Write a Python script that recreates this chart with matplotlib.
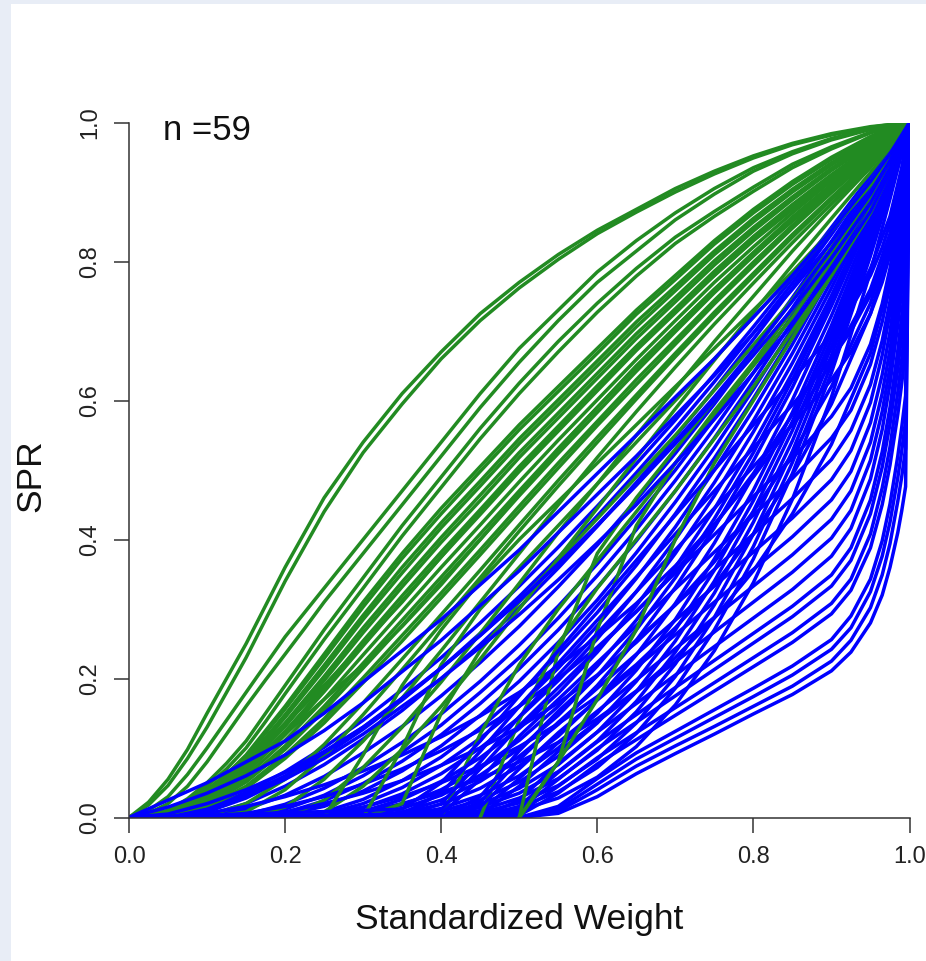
import matplotlib
matplotlib.use("Agg")
import matplotlib.pyplot as plt
from matplotlib.patches import Rectangle

plt.rcParams["font.family"] = ["Liberation Sans", "DejaVu Sans"]

# standardized weight positions at which the SPR of the curves was read
weight = [0.00, 0.05, 0.10, 0.15, 0.20, 0.25, 0.30, 0.35, 0.40, 0.45, 0.50,
          0.55, 0.60, 0.65, 0.70, 0.75, 0.80, 0.85, 0.90, 0.95, 0.975, 0.99, 1.00]
# finer reading near the origin for the outer green S curves
weight_outer = [0.0, 0.025, 0.05, 0.075, 0.10, 0.125, 0.15, 0.175, 0.20, 0.225, 0.25,
                0.30, 0.35, 0.40, 0.45, 0.50, 0.55, 0.60, 0.65, 0.70, 0.75, 0.80,
                0.85, 0.90, 0.95, 0.975, 0.99, 1.0]
# finer reading near weight 1 for the late blue curves
weight_tail = [0.0, 0.35, 0.40, 0.45, 0.50, 0.55, 0.60, 0.65, 0.70, 0.75, 0.80, 0.85,
               0.90, 0.925, 0.95, 0.965, 0.975, 0.985, 0.99, 0.995, 1.0]

# green curves: isolated outer S curves (on weight_outer)
green_outer = [
    [0, .022, .055, .098, .15, .2, .25, .305, .36, .41, .46, .54, .61, .67, .725, .77, .81, .845, .875, .905, .93, .952, .97, .984, .994, .997, .999, 1],
    [0, .018, .046, .085, .13, .18, .23, .285, .34, .39, .44, .525, .595, .66, .715, .762, .803, .84, .871, .90, .926, .949, .968, .982, .993, .997, .999, 1],
    [0, .01, .03, .062, .10, .14, .18, .22, .26, .295, .33, .40, .47, .54, .61, .675, .73, .785, .83, .87, .905, .935, .958, .977, .991, .996, .999, 1],
    [0, .006, .02, .045, .08, .12, .16, .198, .235, .272, .31, .38, .45, .52, .59, .655, .715, .77, .815, .86, .897, .93, .955, .975, .99, .996, .999, 1],
    [0, .003, .01, .027, .05, .078, .11, .15, .19, .23, .27, .345, .42, .49, .56, .625, .685, .74, .79, .835, .872, .907, .94, .965, .986, .994, .998, 1],
    [0, .002, .008, .022, .045, .07, .10, .138, .178, .217, .256, .33, .405, .475, .545, .61, .67, .727, .779, .826, .865, .901, .935, .962, .985, .994, .998, 1],
]

# green curves: the bundle above the diagonal (on weight)
green_bundle = [
    [0, .005, .035, .09, .16, .235, .31, .38, .445, .505, .565, .62, .675, .73, .78, .83, .875, .915, .95, .98, .992, .998, 1],
    [0, .005, .034, .087, .156, .229, .303, .373, .437, .498, .558, .613, .668, .724, .774, .825, .870, .911, .947, .978, .991, .998, 1],
    [0, .004, .032, .082, .148, .219, .291, .360, .424, .484, .545, .601, .657, .713, .764, .815, .862, .904, .942, .975, .989, .997, 1],
    [0, .004, .031, .080, .144, .213, .285, .352, .417, .477, .538, .594, .650, .706, .758, .810, .857, .900, .939, .973, .988, .997, 1],
    [0, .004, .028, .075, .136, .203, .273, .339, .403, .464, .525, .582, .639, .696, .748, .801, .849, .893, .934, .970, .987, .996, 1],
    [0, .004, .027, .072, .131, .197, .266, .332, .396, .456, .518, .575, .632, .689, .742, .795, .844, .889, .931, .968, .986, .995, 1],
    [0, .003, .025, .067, .124, .187, .254, .319, .382, .443, .505, .563, .621, .678, .732, .786, .836, .882, .925, .965, .984, .995, 1],
    [0, .003, .024, .064, .119, .181, .247, .312, .375, .436, .498, .556, .614, .672, .726, .780, .831, .878, .922, .963, .983, .994, 1],
    [0, .003, .022, .059, .111, .170, .234, .297, .360, .421, .483, .543, .601, .659, .715, .770, .821, .870, .916, .959, .981, .994, 1],
    [0, .002, .019, .054, .103, .160, .222, .284, .346, .408, .470, .531, .590, .648, .705, .760, .813, .864, .911, .956, .979, .993, 1],
    [0, .002, .018, .051, .098, .154, .215, .276, .339, .400, .463, .524, .583, .642, .699, .755, .808, .860, .908, .954, .978, .992, 1],
    [0, .002, .016, .045, .090, .142, .201, .262, .323, .385, .448, .510, .570, .630, .687, .744, .799, .852, .902, .950, .976, .992, 1],
    [0, .002, .015, .042, .085, .136, .194, .254, .316, .378, .441, .503, .564, .623, .681, .739, .794, .848, .899, .948, .975, .991, 1],
    [0, 0, .002, .02, .055, .105, .165, .228, .292, .356, .421, .485, .547, .608, .668, .727, .783, .839, .892, .944, .973, .990, 1],
    [0, 0, 0, .008, .04, .088, .148, .213, .279, .345, .412, .477, .54, .602, .663, .722, .779, .835, .889, .942, .972, .990, 1],
    [0, 0, 0, 0, .015, .055, .11, .172, .24, .31, .38, .45, .518, .584, .648, .71, .769, .827, .883, .938, .970, .989, 1],
    [0, 0, 0, 0, 0, .025, .072, .13, .195, .265, .337, .41, .48, .55, .617, .685, .75, .815, .876, .935, .969, .989, 1],
    [0, 0, 0, 0, 0, .008, .045, .098, .16, .228, .30, .373, .445, .517, .588, .658, .727, .795, .862, .928, .964, .987, 1],
    [0, 0, .03, .07, .12, .17, .22, .275, .335, .40, .465, .53, .59, .65, .705, .76, .81, .858, .903, .948, .972, .989, 1],
    [0, .01, .04, .085, .135, .19, .25, .31, .375, .44, .50, .56, .62, .675, .73, .78, .83, .875, .918, .96, .98, .993, 1],
]

# green curves: late starters rising steeply through the blue region (on weight)
green_steep = [
    [0, 0, 0, 0, 0, 0, .09, .19, .27, .34, .40, .455, .51, .565, .62, .675, .73, .785, .845, .91, .952, .981, 1],
    [0, 0, 0, 0, 0, 0, 0, .10, .22, .30, .36, .42, .48, .54, .60, .66, .72, .78, .845, .915, .955, .982, 1],
    [0, 0, 0, 0, 0, 0, 0, .02, .15, .24, .31, .37, .43, .49, .55, .615, .68, .745, .815, .895, .945, .978, 1],
    [0, 0, 0, 0, 0, 0, 0, 0, 0, .12, .22, .30, .37, .44, .51, .58, .65, .72, .80, .885, .94, .977, 1],
    [0, 0, 0, 0, 0, 0, 0, 0, 0, 0, .14, .25, .33, .40, .47, .545, .62, .70, .78, .87, .93, .975, 1],
    [0, 0, 0, 0, 0, 0, 0, 0, 0, 0, 0, .24, .38, .46, .53, .60, .67, .745, .82, .90, .95, .98, 1],
    [0, 0, 0, 0, 0, 0, 0, 0, 0, 0, 0, .08, .27, .42, .51, .585, .655, .73, .81, .895, .945, .978, 1],
    [0, 0, 0, 0, 0, 0, 0, 0, 0, 0, 0, .08, .17, .27, .40, .51, .60, .69, .78, .875, .935, .975, 1],
]

# blue curves: convex curves of the middle band (on weight)
blue_mid = [
    [0, 0, .013, .036, .066, .101, .14, .184, .23, .28, .333, .389, .448, .509, .572, .638, .706, .776, .849, .923, .962, .985, 1],
    [0, 0, .008, .028, .056, .089, .127, .169, .215, .265, .318, .374, .434, .496, .56, .627, .697, .769, .844, .921, .961, .984, 1],
    [0, 0, .003, .02, .045, .076, .113, .154, .2, .249, .302, .359, .419, .482, .548, .616, .688, .762, .839, .918, .959, .983, 1],
    [0, 0, .002, .012, .032, .059, .093, .131, .175, .223, .275, .332, .392, .457, .524, .595, .67, .748, .829, .913, .956, .982, 1],
    [0, 0, 0, .004, .019, .042, .072, .108, .149, .196, .248, .304, .365, .431, .5, .574, .652, .733, .819, .907, .953, .981, 1],
    [0, 0, 0, .002, .012, .032, .06, .094, .133, .18, .23, .287, .348, .414, .485, .56, .64, .723, .812, .903, .951, .98, 1],
    [0, 0, 0, 0, .007, .024, .049, .081, .119, .164, .214, .27, .331, .398, .47, .546, .628, .714, .805, .9, .949, .98, 1],
    [0, 0, 0, 0, .004, .016, .038, .067, .103, .147, .196, .252, .313, .381, .454, .532, .616, .704, .798, .897, .948, .979, 1],
    [0, 0, 0, 0, 0, .008, .026, .053, .087, .129, .178, .234, .295, .363, .437, .517, .603, .694, .791, .893, .946, .978, 1],
    [0, 0, 0, 0, 0, .005, .02, .043, .075, .114, .16, .215, .276, .344, .418, .5, .587, .681, .782, .888, .943, .977, 1],
    [0, 0, 0, 0, 0, .002, .014, .034, .063, .1, .144, .197, .257, .325, .4, .482, .571, .668, .772, .882, .94, .976, 1],
    [0, 0, 0, 0, 0, .001, .009, .026, .052, .086, .128, .179, .238, .305, .38, .463, .555, .654, .762, .877, .937, .975, 1],
    [0, 0, 0, 0, 0, 0, .004, .018, .04, .071, .111, .16, .218, .284, .36, .444, .538, .64, .751, .871, .934, .974, 1],
    [0, 0, 0, 0, 0, 0, .002, .013, .032, .061, .099, .147, .204, .27, .345, .43, .525, .63, .744, .867, .932, .973, 1],
    [0, 0, 0, 0, 0, 0, .001, .008, .025, .052, .088, .134, .19, .255, .331, .417, .513, .619, .736, .863, .93, .972, 1],
    [0, 0, 0, 0, 0, 0, 0, .006, .019, .042, .074, .117, .17, .234, .308, .395, .492, .601, .722, .855, .926, .97, 1],
    [0, 0, 0, 0, 0, 0, 0, .003, .013, .032, .06, .1, .15, .212, .285, .372, .471, .583, .708, .847, .922, .968, 1],
    [0, 0, 0, 0, 0, 0, 0, .001, .009, .025, .051, .088, .136, .196, .27, .356, .456, .57, .698, .842, .919, .967, 1],
    [0, 0, 0, 0, 0, 0, 0, 0, .005, .019, .042, .076, .123, .181, .254, .34, .441, .557, .688, .836, .916, .966, 1],
    [0, 0, 0, 0, 0, 0, 0, 0, .004, .015, .035, .066, .11, .167, .238, .323, .425, .542, .677, .83, .913, .965, 1],
    [0, 0, 0, 0, 0, 0, 0, 0, .002, .01, .028, .056, .097, .152, .221, .306, .408, .527, .665, .823, .909, .963, 1],
    [0, 0, 0, 0, 0, 0, 0, 0, .001, .007, .021, .046, .084, .136, .203, .288, .39, .511, .652, .816, .905, .962, 1],
    [0, 0, 0, 0, 0, 0, 0, 0, 0, .004, .015, .037, .072, .121, .186, .27, .372, .495, .64, .808, .901, .96, 1],
    [0, 0, 0, 0, 0, 0, 0, 0, 0, .002, .01, .028, .058, .102, .162, .24, .338, .458, .605, .785, .89, .955, 1],
]

# blue curves: shallow early starters low in the band (on weight)
blue_shallow = [
    [0, 0, .006, .016, .03, .047, .067, .09, .116, .146, .18, .218, .26, .308, .362, .422, .49, .567, .655, .76, .84, .92, 1],
    [0, 0, 0, .006, .016, .03, .048, .07, .096, .126, .16, .2, .245, .296, .354, .42, .495, .58, .677, .79, .865, .935, 1],
    [0, 0, 0, 0, .008, .02, .035, .053, .075, .1, .13, .165, .205, .252, .306, .368, .44, .523, .62, .74, .83, .915, 1],
    [0, 0, 0, 0, 0, .005, .015, .03, .05, .074, .102, .135, .174, .22, .273, .335, .408, .493, .595, .725, .82, .91, 1],
    [0, 0, 0, 0, 0, 0, .008, .02, .036, .056, .08, .108, .142, .182, .23, .287, .355, .437, .537, .668, .775, .885, 1],
]

# blue curves: late starters that turn up sharply near weight 1 (on weight_tail)
blue_low = [
    [0, 0, 0, 0, 0, .006, .03, .063, .092, .12, .149, .177, .211, .238, .28, .32, .36, .41, .441, .476, 1],
    [0, 0, 0, 0, 0, .009, .04, .074, .103, .131, .16, .189, .225, .255, .302, .349, .394, .455, .49, .531, 1],
    [0, 0, 0, 0, 0, .012, .048, .084, .114, .144, .174, .205, .242, .273, .325, .376, .425, .489, .527, .571, 1],
    [0, 0, 0, 0, 0, .016, .056, .093, .124, .155, .186, .218, .256, .29, .343, .398, .451, .52, .561, .607, 1],
    [0, 0, 0, 0, .003, .035, .077, .112, .147, .182, .217, .252, .293, .327, .388, .45, .507, .58, .624, .674, 1],
    [0, 0, 0, 0, .007, .045, .086, .122, .158, .194, .23, .266, .308, .343, .408, .474, .533, .612, .658, .711, 1],
    [0, 0, 0, 0, .012, .055, .099, .137, .175, .213, .251, .289, .333, .37, .437, .504, .566, .646, .694, .749, 1],
    [0, 0, 0, 0, .016, .065, .109, .148, .187, .226, .265, .304, .349, .388, .457, .526, .59, .672, .721, .777, 1],
    [0, 0, 0, 0, .025, .078, .123, .164, .205, .246, .287, .328, .376, .416, .487, .558, .624, .709, .759, .817, 1],
    [0, 0, 0, .004, .045, .095, .138, .181, .224, .267, .31, .353, .402, .442, .514, .584, .648, .731, .781, .837, 1],
    [0, 0, 0, .009, .056, .108, .153, .198, .243, .288, .333, .378, .429, .47, .54, .61, .673, .755, .803, .859, 1],
    [0, 0, 0, .015, .07, .122, .169, .216, .263, .31, .357, .404, .457, .498, .568, .637, .699, .779, .827, .881, 1],
    [0, 0, 0, .022, .083, .137, .186, .235, .284, .333, .382, .431, .486, .528, .597, .665, .726, .805, .85, .903, 1],
    [0, 0, 0, .03, .096, .153, .204, .255, .306, .357, .408, .459, .515, .557, .623, .686, .743, .816, .859, .907, 1],
    [0, 0, .005, .055, .117, .17, .223, .276, .329, .382, .435, .488, .546, .586, .652, .713, .766, .835, .875, .921, 1],
    [0, 0, .011, .07, .132, .187, .242, .297, .352, .407, .462, .517, .577, .618, .681, .739, .79, .856, .893, .937, 1],
    [0, 0, .02, .08, .145, .205, .265, .325, .385, .445, .505, .565, .63, .67, .725, .77, .81, .865, .90, .94, 1],
    [0, .005, .035, .095, .16, .222, .284, .346, .408, .47, .532, .594, .66, .70, .752, .795, .833, .882, .912, .948, 1],
    [0, .012, .05, .11, .175, .24, .305, .37, .435, .50, .565, .63, .695, .733, .78, .82, .855, .898, .924, .955, 1],
]

# blue curves: upper edge of the blue family along the diagonal (on weight)
blue_edge = [
    [0, .025, .05, .08, .11, .15, .195, .24, .285, .335, .385, .44, .495, .55, .605, .66, .72, .78, .845, .915, .955, .982, 1],
    [0, .015, .035, .06, .09, .125, .165, .21, .255, .305, .355, .41, .465, .52, .578, .636, .697, .76, .828, .90, .945, .978, 1],
    [0, .005, .02, .04, .065, .095, .13, .17, .215, .262, .312, .365, .42, .478, .538, .60, .665, .732, .805, .884, .935, .973, 1],
    [0, 0, .01, .03, .055, .085, .12, .16, .20, .245, .292, .342, .395, .45, .51, .573, .64, .71, .787, .872, .928, .97, 1],
    [0, 0, .012, .033, .06, .093, .13, .172, .215, .262, .312, .365, .421, .479, .541, .605, .673, .743, .818, .897, .945, .978, 1],
]

n_subjects = 59
ticks = [0.0, 0.2, 0.4, 0.6, 0.8, 1.0]
tick_labels = ["0.0", "0.2", "0.4", "0.6", "0.8", "1.0"]

GREEN = "#228B22"
BLUE = "#0000FF"
LW = 2.5

fig = plt.figure(figsize=(9.26, 9.61), dpi=100)
fig.patch.set_facecolor("white")
# light page frame of the screenshot (left and top)
fig.patches.append(Rectangle((0, 0), 11 / 926, 1, transform=fig.transFigure,
                             facecolor="#e8edf6", edgecolor="none", zorder=-1))
fig.patches.append(Rectangle((0, 1 - 4 / 961), 1, 4 / 961, transform=fig.transFigure,
                             facecolor="#e8edf6", edgecolor="none", zorder=-1))

ax = fig.add_axes([129 / 926, 143.5 / 961, 780.5 / 926, 695 / 961])


def from_last_zero(xs, ys):
    # green curves start where they leave zero
    k = 0
    while k + 1 < len(ys) and ys[k + 1] == 0:
        k += 1
    return xs[k:], ys[k:]


def interleave(greens, blues):
    # spread the two colours evenly through the drawing order
    items = [((i + 0.5) / len(greens), GREEN, g) for i, g in enumerate(greens)]
    items += [((i + 0.5) / len(blues), BLUE, b) for i, b in enumerate(blues)]
    return sorted(items, key=lambda t: t[0])


layers = [
    interleave([(weight_outer, c) for c in green_outer] + [(weight, c) for c in green_bundle],
               [(weight, c) for c in blue_mid + blue_shallow]),
    interleave([(weight, c) for c in green_steep],
               [(weight_tail, c) for c in blue_low]),
    [(0, BLUE, (weight, c)) for c in blue_edge],
]

for layer in layers:
    for _, colour, (xs, ys) in layer:
        if colour == GREEN:
            xs, ys = from_last_zero(xs, ys)
        ax.plot(xs, ys, color=colour, lw=LW)

ax.set_xlim(0, 1)
ax.set_ylim(0, 1)
for side in ["top", "right"]:
    ax.spines[side].set_visible(False)
for side in ["left", "bottom"]:
    ax.spines[side].set_color("#333333")
    ax.spines[side].set_linewidth(1.1)
    ax.spines[side].set_zorder(5)

ax.set_xticks(ticks, tick_labels)
ax.set_yticks(ticks, tick_labels)
ax.tick_params(direction="out", length=10.8, width=1.1, color="#333333",
               labelsize=17, labelcolor="#222222")
ax.tick_params(axis="x", pad=10)
ax.tick_params(axis="y", pad=9, labelrotation=90)
for lbl in ax.get_yticklabels():
    lbl.set_va("center")

fig.text(519 / 926, 1 - 929 / 961, "Standardized Weight", ha="center", va="baseline",
         fontsize=25.5, color="#111111")
fig.text(31 / 926, 1 - 476 / 961, "SPR", ha="center", va="center", rotation=90,
         fontsize=25.5, color="#111111")
ax.text(0.044, 0.975, f"n ={n_subjects}", ha="left", va="baseline",
        fontsize=25, color="#111111")

fig.savefig("out.png", dpi=100)
